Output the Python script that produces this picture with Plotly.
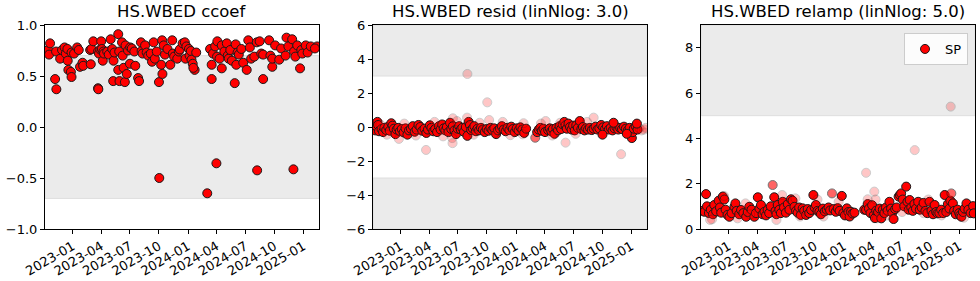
import numpy as np
import plotly.graph_objects as go

# ---------------- data ----------------
# Panel 1: ccoef
cc_dates = [
"2022-10-15","2022-10-18","2022-10-21","2022-11-06","2022-11-10","2022-11-09","2022-11-22","2022-11-28",
"2022-12-06","2022-12-10","2022-12-15","2022-12-16","2022-12-18","2022-12-26","2022-12-28","2022-12-28",
"2023-01-05","2023-01-15","2023-01-20","2023-01-24","2023-02-01","2023-02-03","2023-02-25","2023-03-01",
"2023-02-27","2023-03-07","2023-03-22","2023-03-23","2023-03-22","2023-03-25","2023-03-29","2023-04-01",
"2023-04-03","2023-04-06","2023-04-08","2023-04-10","2023-04-20","2023-04-25","2023-05-01","2023-05-06",
"2023-05-09","2023-05-10","2023-05-13","2023-05-25","2023-05-25","2023-05-29","2023-05-28","2023-06-06",
"2023-06-08","2023-06-11","2023-06-15","2023-06-17","2023-06-21","2023-06-25","2023-07-01","2023-07-02",
"2023-07-07","2023-07-18","2023-07-15","2023-07-27","2023-07-30","2023-08-05","2023-08-07","2023-08-10",
"2023-08-18","2023-08-23","2023-08-28","2023-09-05","2023-09-09","2023-09-14","2023-09-18","2023-09-24",
"2023-10-01","2023-10-02","2023-10-08","2023-10-12","2023-10-11","2023-10-16","2023-10-20","2023-10-28",
"2023-11-06","2023-11-12","2023-11-14","2023-11-18","2023-11-28","2023-12-03","2023-12-06","2023-12-15",
"2023-12-22","2023-12-24","2023-12-27","2024-01-04","2024-01-06","2024-01-10","2024-01-12","2024-01-16",
"2024-01-22","2024-01-18","2024-01-27","2024-03-02","2024-03-11","2024-03-16","2024-03-16","2024-03-20",
"2024-03-27","2024-03-31","2024-04-03","2024-04-02","2024-04-10","2024-04-17","2024-04-17","2024-04-25",
"2024-05-03","2024-05-06","2024-05-09","2024-05-14","2024-05-19","2024-05-28","2024-05-31","2024-06-02",
"2024-06-06","2024-06-10","2024-06-18","2024-06-24","2024-07-05","2024-07-10","2024-07-15","2024-07-19",
"2024-07-29","2024-08-07","2024-08-06","2024-08-15","2024-08-20","2024-08-26","2024-08-26","2024-09-14",
"2024-09-18","2024-09-24","2024-09-24","2024-10-03","2024-10-16","2024-10-22","2024-11-05","2024-11-08",
"2024-11-14","2024-11-26","2024-11-30","2024-12-02","2024-12-06","2024-12-12","2024-12-21","2024-12-25",
"2024-12-28","2025-01-08","2025-01-14","2025-01-24","2025-02-13","2025-02-06",
]
cc_values = [
0.755,0.71,0.82,0.47,0.37,0.74,0.67,0.755,
0.78,0.72,0.765,0.65,0.56,0.54,0.49,0.73,
0.72,0.78,0.755,0.59,0.63,0.60,0.755,0.765,
0.615,0.84,0.38,0.37,0.74,0.72,0.76,0.84,
0.765,0.65,0.74,0.72,0.74,0.71,0.86,0.765,
0.45,0.65,0.73,0.91,0.56,0.45,0.74,0.83,
0.70,0.58,0.44,0.80,0.52,0.75,0.62,0.78,
0.77,0.60,0.74,0.48,0.45,0.83,0.745,0.72,
0.80,0.73,0.70,0.72,0.64,0.83,0.67,0.74,
0.44,-0.50,0.61,0.52,0.85,0.80,0.71,0.765,
0.61,0.85,0.72,0.69,0.67,0.74,0.76,0.82,
0.83,0.67,0.79,0.765,0.70,0.745,0.66,0.62,
0.56,0.58,0.73,-0.65,0.765,0.61,0.47,0.72,
0.79,-0.356,0.84,0.69,0.67,0.575,0.80,0.74,
0.82,0.70,0.67,0.755,0.65,0.43,0.81,0.61,
0.73,0.71,0.765,0.63,0.56,0.85,0.78,0.67,
0.69,-0.425,0.83,0.84,0.72,0.47,0.71,0.85,
0.70,0.59,0.67,0.80,0.66,0.77,0.70,0.876,
0.79,0.86,-0.415,0.74,0.69,0.80,0.575,0.755,
0.72,0.80,0.73,0.79,0.79,0.77,
]

# Panel 2: resid
rs_dates = [
"2022-10-12","2022-10-15","2022-10-19","2022-10-21","2022-10-24","2022-11-01","2022-11-06","2022-11-10",
"2022-11-16","2022-11-22","2022-11-27","2022-12-02","2022-12-06","2022-12-10","2022-12-15","2022-12-19",
"2022-12-24","2022-12-29","2023-01-04","2023-01-10","2023-01-16","2023-01-22","2023-01-27","2023-02-02",
"2023-02-08","2023-02-14","2023-02-20","2023-02-26","2023-03-04","2023-03-10","2023-03-17","2023-03-23",
"2023-03-28","2023-04-03","2023-04-08","2023-04-14","2023-04-20","2023-04-26","2023-05-02","2023-05-07",
"2023-05-12","2023-05-17","2023-05-22","2023-05-27","2023-06-01","2023-06-06","2023-06-10","2023-06-15",
"2023-06-20","2023-06-25","2023-06-30","2023-07-05","2023-07-10","2023-07-15","2023-07-20","2023-07-26",
"2023-07-31","2023-08-04","2023-08-08","2023-08-12","2023-08-17","2023-08-22","2023-08-27","2023-09-01",
"2023-09-06","2023-09-12","2023-09-18","2023-09-24","2023-09-30","2023-10-06","2023-10-12","2023-10-18",
"2023-10-24","2023-10-30","2023-11-05","2023-11-11","2023-11-17","2023-11-23","2023-11-29","2023-12-05",
"2023-12-11","2023-12-17","2023-12-22","2023-12-28","2024-01-03","2024-01-09","2024-01-15","2024-01-21",
"2024-01-27","2024-02-02","2024-03-02","2024-03-08","2024-03-13","2024-03-18","2024-03-23","2024-03-28",
"2024-04-02","2024-04-12","2024-04-17","2024-04-22","2024-04-27","2024-05-02","2024-05-08","2024-05-13",
"2024-05-18","2024-05-23","2024-05-28","2024-06-02","2024-06-06","2024-06-10","2024-06-15","2024-06-20",
"2024-06-25","2024-06-30","2024-07-05","2024-07-10","2024-07-15","2024-07-21","2024-07-26","2024-07-31",
"2024-08-05","2024-08-10","2024-08-16","2024-08-22","2024-08-28","2024-09-03","2024-09-09","2024-09-15",
"2024-09-21","2024-09-27","2024-10-03","2024-10-09","2024-10-15","2024-10-21","2024-10-27","2024-11-02",
"2024-11-08","2024-11-14","2024-11-20","2024-11-26","2024-12-02","2024-12-08","2024-12-14","2024-12-20",
"2024-12-26","2025-01-02","2025-01-05","2025-01-08","2025-01-14","2025-01-20","2025-01-26","2025-02-02",
"2025-02-10","2025-02-15",
# faded
"2022-12-26","2023-03-22","2023-06-13","2023-06-14","2023-06-15","2023-07-31","2023-07-30","2023-10-02",
"2023-10-08","2024-01-25","2024-01-22","2024-04-04","2024-06-06","2024-09-03","2024-11-29",
"2022-10-28","2022-11-18","2023-01-12","2023-02-18","2023-04-18","2023-05-15","2023-06-28","2023-08-20",
"2023-09-08","2023-10-26","2023-11-20","2023-12-14","2024-03-20","2024-04-25","2024-05-20","2024-07-08",
"2024-08-13","2024-10-01","2024-11-05","2024-12-17","2025-01-18",
]
rs_values = [
-0.20,0.05,0.30,0.12,-0.25,-0.12,-0.30,-0.05,
-0.18,0.02,-0.22,0.22,0.08,-0.10,-0.42,-0.15,
-0.05,-0.25,-0.12,-0.32,-0.08,-0.45,-0.20,-0.10,
0.05,-0.28,-0.15,0.12,0.00,-0.22,-0.10,-0.35,
-0.15,0.10,-0.05,-0.25,-0.12,-0.30,0.05,-0.15,
0.15,-0.08,-0.20,0.00,-0.30,0.25,-0.12,0.05,
-0.20,-0.42,-0.10,0.05,-0.15,-0.05,-0.28,0.00,
-0.52,0.30,0.12,-0.18,-0.08,0.05,-0.25,-0.10,
-0.20,-0.05,-0.15,-0.30,-0.12,-0.22,-0.05,-0.18,
-0.08,-0.42,-0.20,-0.10,0.05,-0.15,-0.25,-0.05,
-0.18,0.02,-0.12,-0.30,-0.08,-0.20,-0.02,-0.15,
-0.35,-0.10,-0.63,-0.30,-0.15,-0.05,-0.22,-0.10,
-0.30,-0.18,-0.08,-0.25,-0.12,-0.40,-0.05,-0.20,
0.05,-0.12,0.15,0.30,0.10,-0.10,0.20,0.00,
-0.15,0.08,-0.20,0.10,-0.05,0.35,-0.12,0.00,
-0.20,-0.08,-0.15,-0.05,-0.18,-0.10,0.02,-0.15,
-0.08,0.12,-0.02,-0.12,0.05,-0.15,-0.05,-0.20,
-0.08,0.00,-0.15,-0.05,-0.12,0.02,-0.10,-0.20,
-0.05,-0.65,-0.30,-0.10,0.05,-0.15,-0.08,-0.20,
-0.15,-0.05,
# faded
-0.70,-1.35,-0.65,-0.95,0.51,3.12,0.55,1.45,
0.41,0.22,-0.43,0.35,-0.92,0.55,-1.60,
0.15,-0.45,0.20,-0.50,0.30,-0.55,0.35,-0.45,
0.25,-0.35,0.30,-0.48,0.20,-0.50,0.25,-0.40,
0.30,-0.45,0.25,-0.40,0.20,
]
rs_alpha = [1.0]*90 + [0.6] + [1.0]*59 + [0.22]*36

# Panel 3: relamp
ra_dates = [
"2022-10-10","2022-10-16","2022-10-21","2022-10-24","2022-10-30","2022-11-05","2022-11-12","2022-11-16",
"2022-11-22","2022-11-30","2022-12-04","2022-12-08","2022-12-13","2022-12-18","2022-12-22","2022-12-28",
"2023-01-03","2023-01-10","2023-01-19","2023-01-22","2023-01-26","2023-02-03","2023-02-09","2023-02-16",
"2023-02-25","2023-03-02","2023-03-07","2023-03-14","2023-03-23","2023-03-28","2023-04-03","2023-04-08",
"2023-04-13","2023-04-18","2023-04-24","2023-04-29","2023-05-04","2023-05-09","2023-05-14","2023-05-20",
"2023-05-25","2023-05-29","2023-06-01","2023-06-05","2023-06-10","2023-06-15","2023-06-21","2023-06-25",
"2023-07-01","2023-07-07","2023-07-12","2023-07-17","2023-07-22","2023-07-28","2023-08-02","2023-08-07",
"2023-08-12","2023-08-17","2023-08-23","2023-08-28","2023-09-03","2023-09-08","2023-09-13","2023-09-19",
"2023-09-26","2023-09-30","2023-10-04","2023-10-09","2023-10-15","2023-10-20","2023-10-26","2023-11-01",
"2023-11-07","2023-11-13","2023-11-18","2023-11-24","2023-11-29","2023-12-06","2023-12-12","2023-12-18",
"2023-12-25","2023-12-30","2024-01-04","2024-01-10","2024-01-15","2024-01-19","2024-01-23","2024-01-28",
"2024-02-03","2024-03-05","2024-03-11","2024-03-16","2024-03-20","2024-03-25","2024-03-30","2024-04-04",
"2024-04-08","2024-04-12","2024-04-18","2024-04-23","2024-04-28","2024-05-03","2024-05-08","2024-05-13",
"2024-05-18","2024-05-24","2024-05-29","2024-06-02","2024-06-06","2024-06-11","2024-06-16","2024-06-22",
"2024-06-26","2024-06-30","2024-07-05","2024-07-10","2024-07-16","2024-07-20","2024-07-24","2024-07-27",
"2024-08-01","2024-08-06","2024-08-11","2024-08-16","2024-08-23","2024-08-28","2024-09-03","2024-09-09",
"2024-09-15","2024-09-21","2024-09-28","2024-10-04","2024-10-09","2024-10-14","2024-10-19","2024-10-23",
"2024-10-29","2024-11-04","2024-11-10","2024-11-15","2024-11-20","2024-11-25","2024-11-30","2024-12-03",
"2024-12-06","2024-12-11","2024-12-15","2024-12-20","2024-12-26","2024-12-31","2025-01-03","2025-01-07",
"2025-01-12","2025-01-17","2025-01-23","2025-01-29","2025-02-05","2025-02-13","2025-02-15",
# faded
"2022-11-09","2022-12-17","2022-11-03","2023-01-29","2023-02-23","2023-03-10","2023-06-19","2023-06-01",
"2023-07-31","2023-08-15","2023-10-09","2023-10-28","2023-12-15","2024-01-10","2024-03-11","2024-03-16",
"2024-04-06","2024-04-10","2024-04-14","2024-05-15","2024-07-03","2024-08-12","2024-09-09","2024-09-24",
"2024-12-04","2024-11-05","2025-01-15",
]
ra_values = [
0.80,0.76,1.54,1.00,0.70,0.85,0.65,1.06,
0.78,1.25,0.95,0.72,1.43,1.30,0.85,0.62,
0.54,0.70,0.98,1.13,0.80,0.65,0.84,0.70,
0.54,0.75,0.98,0.85,0.54,0.70,1.40,0.90,
1.06,0.65,0.76,0.60,0.84,0.70,1.00,1.94,
1.40,0.80,0.65,1.06,0.85,0.70,1.20,0.95,
0.72,1.10,0.85,1.31,1.25,0.98,0.80,0.72,
0.95,0.62,0.91,0.80,0.62,0.88,0.70,0.84,
1.50,0.95,1.06,0.80,0.76,0.65,0.90,0.78,
0.85,0.95,0.82,1.57,0.88,0.76,0.92,0.80,
1.46,0.70,0.60,0.91,0.75,0.55,0.76,0.68,
0.72,0.85,0.84,1.10,0.90,0.70,1.05,0.60,
0.48,0.81,0.75,0.90,0.47,0.85,0.70,0.95,
0.80,1.20,0.90,0.72,0.44,0.88,0.95,1.43,
1.50,1.57,1.30,1.00,1.87,1.20,0.85,1.28,
0.95,0.80,1.10,0.90,1.20,0.85,0.95,1.15,
0.80,0.70,1.20,0.80,0.65,1.06,0.75,0.69,
0.70,0.85,0.70,1.50,0.75,1.10,0.90,1.25,
1.57,1.13,0.80,0.65,0.85,0.70,0.60,0.54,
0.75,0.90,1.13,0.85,0.70,1.01,0.69,
# faded
0.43,1.46,0.40,0.47,1.13,0.65,1.50,0.40,
1.35,0.55,1.30,0.55,1.20,0.60,2.48,1.31,
1.65,1.30,0.47,0.60,0.75,3.48,0.70,1.30,
5.40,0.60,0.50,
]
ra_alpha = ([1.0]*39 + [0.6] + [1.0]*35 + [0.6] + [1.0]*68 + [0.6] + [1.0]*14
            + [0.22]*27)

titles = ["HS.WBED ccoef", "HS.WBED resid (linNlog: 3.0)", "HS.WBED relamp (linNlog: 5.0)"]
legend_name = "SP"

# ---------------- figure ----------------
W, H = 980, 281
FONT = "DejaVu Sans"
TICK = 13
x_dom = [(45/W, 319/W), (373/W, 647/W), (701/W, 975/W)]
y_dom = (1 - 229/H, 1 - 25/H)
xrange = ["2022-10-05", "2025-02-19"]
yranges = [(-1, 1), (-6, 6), (0, 9)]
ydticks = [0.5, 2, 2]
yfmt = [".1f", "d", "d"]

RED = "#ff0000"
EDGE = "#1a1a1a"

fig = go.Figure()

def add_pts(i, xs, ys, alphas):
    ax = "" if i == 0 else str(i + 1)
    fig.add_trace(go.Scatter(
        x=xs, y=ys, mode="markers", xaxis="x" + ax, yaxis="y" + ax,
        marker=dict(color=RED, size=9, opacity=alphas,
                    line=dict(color=EDGE, width=1)),
        showlegend=False, hoverinfo="x+y"))

add_pts(0, cc_dates, cc_values, [1.0]*len(cc_values))
add_pts(1, rs_dates, rs_values, rs_alpha)
add_pts(2, ra_dates, ra_values, ra_alpha)

# legend-only entry
fig.add_trace(go.Scatter(
    x=[None], y=[None], mode="markers", xaxis="x3", yaxis="y3", name=legend_name,
    marker=dict(color=RED, size=9, line=dict(color=EDGE, width=1)), showlegend=True))

shapes = []
def band(i, y0, y1):
    ax = "" if i == 0 else str(i + 1)
    shapes.append(dict(type="rect", xref="x" + ax + " domain", yref="y" + ax,
                       x0=0, x1=1, y0=y0, y1=y1, fillcolor="#ebebeb",
                       line=dict(color="#dedede", width=1), layer="below"))

band(0, -0.7, 0.7)
band(1, 3, 6)
band(1, -6, -3)
band(2, 5, 9)

# faint median lines
for i, vals, al in [(1, rs_values, rs_alpha), (2, ra_values, ra_alpha)]:
    ax = str(i + 1)
    med = float(np.median([v for v, a in zip(vals, al) if a >= 0.6]))
    shapes.append(dict(type="line", xref="x" + ax + " domain", yref="y" + ax,
                       x0=0, x1=1, y0=med, y1=med,
                       line=dict(color="#cfcfcf", width=1, dash="dash"), layer="below"))

layout = dict(
    width=W, height=H, margin=dict(l=0, r=0, t=0, b=0, autoexpand=False),
    paper_bgcolor="white", plot_bgcolor="white",
    font=dict(family=FONT, size=TICK, color="black"),
    shapes=shapes,
    legend=dict(x=968/W, xanchor="right", y=1 - 33/H, yanchor="top",
                bordercolor="#cccccc", borderwidth=1, bgcolor="rgba(255,255,255,0.85)",
                font=dict(family=FONT, size=TICK), itemwidth=30),
)

annotations = []
for i in range(3):
    ax = "" if i == 0 else str(i + 1)
    layout["xaxis" + ax] = dict(
        domain=list(x_dom[i]), anchor="y" + ax, type="date", range=xrange,
        tick0="2023-01-01", dtick="M3", tickformat="%Y-%m", tickangle=-30,
        ticks="outside", ticklen=4, tickwidth=1, tickcolor="black",
        showline=True, linecolor="black", linewidth=1, mirror=True, automargin=False,
        showgrid=False, zeroline=False, tickfont=dict(size=TICK))
    layout["yaxis" + ax] = dict(
        domain=list(y_dom), anchor="x" + ax, range=list(yranges[i]),
        dtick=ydticks[i], tick0=0, tickformat=yfmt[i],
        ticks="outside", ticklen=4, tickwidth=1, tickcolor="black",
        showline=True, linecolor="black", linewidth=1, mirror=True, automargin=False,
        showgrid=False, zeroline=False, tickfont=dict(size=TICK))
    annotations.append(dict(
        text=titles[i], xref="paper", yref="paper",
        x=(x_dom[i][0] + x_dom[i][1]) / 2, y=1 - 11.7/H,
        xanchor="center", yanchor="middle", showarrow=False,
        font=dict(family=FONT, size=16.5, color="black")))
layout["annotations"] = annotations

fig.update_layout(**layout)
fig.write_html("out.html")
